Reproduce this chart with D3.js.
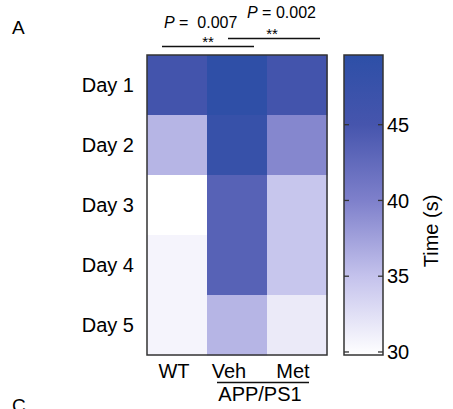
<!DOCTYPE html>
<html>
<head>
<meta charset="utf-8">
<script src="https://cdn.jsdelivr.net/npm/d3@7"></script>
<style>
  body { margin: 0; background: #fff; }
  svg { font-family: "Liberation Sans", Arial, sans-serif; }
</style>
</head>
<body>
<svg id="chart" width="453" height="409"></svg>
<script>
const days = ["Day 1", "Day 2", "Day 3", "Day 4", "Day 5"];
const groups = ["WT", "Veh", "Met"];
// time (s) per day, one array per group
const wtTime  = [45.5, 36.0, 29.8, 30.7, 30.7];
const vehTime = [49.3, 47.8, 43.5, 43.5, 36.0];
const metTime = [45.5, 39.5, 34.7, 34.7, 31.6];
const barTicks = [30, 35, 40, 45];
const colorDomain = [29.8, 35, 40, 45, 49.6];
const colorStops = ["#ffffff", "#c4c2ec", "#7e80cb", "#4655ad", "#2d4fa7"];

const cells = [];
[wtTime, vehTime, metTime].forEach((arr, gi) => {
    arr.forEach((v, di) => cells.push({group: groups[gi], day: days[di], value: v}));
});

const svg = d3.select("#chart");
const color = d3.scaleLinear().domain(colorDomain).range(colorStops).clamp(true);

const x = d3.scaleBand().domain(groups).range([147, 327]);
const y = d3.scaleBand().domain(days).range([55, 355]);

// heatmap cells
svg.append("g").selectAll("rect")
    .data(cells)
    .enter()
    .append("rect")
        .attr("x", d => x(d.group))
        .attr("y", d => y(d.day))
        .attr("width", x.bandwidth() + 0.5)
        .attr("height", y.bandwidth() + 0.5)
        .attr("fill", d => color(d.value));

svg.append("rect")
    .attr("x", 147).attr("y", 55)
    .attr("width", 180).attr("height", 300)
    .attr("fill", "none").attr("stroke", "#333").attr("stroke-width", 1.5);

// day labels
svg.append("g").selectAll("text")
    .data(days)
    .enter()
    .append("text")
        .attr("x", 134)
        .attr("y", d => y(d) + y.bandwidth() / 2 + 7)
        .attr("text-anchor", "end")
        .style("font-size", "20px")
        .text(d => d);

// group labels
const groupLabelX = {WT: 174, Veh: 229, Met: 293};
svg.append("g").selectAll("text")
    .data(groups)
    .enter()
    .append("text")
        .attr("x", d => groupLabelX[d])
        .attr("y", 378)
        .attr("text-anchor", "middle")
        .style("font-size", "20px")
        .text(d => d);

svg.append("line")
    .attr("x1", 217).attr("x2", 309).attr("y1", 382.5).attr("y2", 382.5)
    .attr("stroke", "#111").attr("stroke-width", 1.3);
svg.append("text")
    .attr("x", 260).attr("y", 401)
    .attr("text-anchor", "middle")
    .style("font-size", "20px")
    .text("APP/PS1");

// significance brackets
let addP = (px, py, val) => {
    let t = svg.append("text").attr("x", px).attr("y", py)
        .style("font-size", "16px").style("white-space", "pre");
    t.append("tspan").style("font-style", "italic").text("P");
    t.append("tspan").text(val);
};
addP(164, 28, " =  0.007");
addP(247, 18, " = 0.002");

svg.append("line").attr("x1", 162).attr("x2", 254).attr("y1", 46.5).attr("y2", 46.5)
    .attr("stroke", "#111").attr("stroke-width", 1.3);
svg.append("line").attr("x1", 228).attr("x2", 320).attr("y1", 38.5).attr("y2", 38.5)
    .attr("stroke", "#111").attr("stroke-width", 1.3);
svg.append("text").attr("x", 208).attr("y", 47).attr("text-anchor", "middle")
    .style("font-size", "15px").text("**");
svg.append("text").attr("x", 272).attr("y", 39).attr("text-anchor", "middle")
    .style("font-size", "15px").text("**");

// panel letters (C is cut by the bottom edge, as in the source figure)
svg.append("text").attr("x", 12).attr("y", 34).style("font-size", "19px").text("A");
svg.append("text").attr("x", 12).attr("y", 412).style("font-size", "19px").text("C");

// colour bar
const cb = {x: 344, w: 39, top: 55, bottom: 355};
const yBar = d3.scaleLinear().domain([29.8, 49.6]).range([cb.bottom, cb.top]);
const grad = svg.append("defs").append("linearGradient")
    .attr("id", "cbar").attr("x1", 0).attr("x2", 0).attr("y1", 1).attr("y2", 0);
colorDomain.forEach(v => {
    grad.append("stop")
        .attr("offset", (v - 29.8) / (49.6 - 29.8))
        .attr("stop-color", color(v));
});
svg.append("rect")
    .attr("x", cb.x).attr("y", cb.top)
    .attr("width", cb.w).attr("height", cb.bottom - cb.top)
    .attr("fill", "url(#cbar)")
    .attr("stroke", "#333").attr("stroke-width", 1.5);

let gTicks = svg.append("g").selectAll("g")
    .data(barTicks)
    .enter()
    .append("g")
        .attr("transform", d => `translate(0, ${yBar(d)})`);
gTicks.append("line").attr("x1", cb.x).attr("x2", cb.x + 5).attr("stroke", "#333").attr("stroke-width", 1.3);
gTicks.append("line").attr("x1", cb.x + cb.w - 5).attr("x2", cb.x + cb.w).attr("stroke", "#333").attr("stroke-width", 1.3);
gTicks.append("text")
    .attr("x", cb.x + cb.w + 4)
    .attr("dy", "0.36em")
    .style("font-size", "20px")
    .text(d => d);

svg.append("text")
    .attr("transform", "translate(438, 231) rotate(-90)")
    .attr("text-anchor", "middle")
    .style("font-size", "20px")
    .text("Time (s)");
</script>
</body>
</html>
